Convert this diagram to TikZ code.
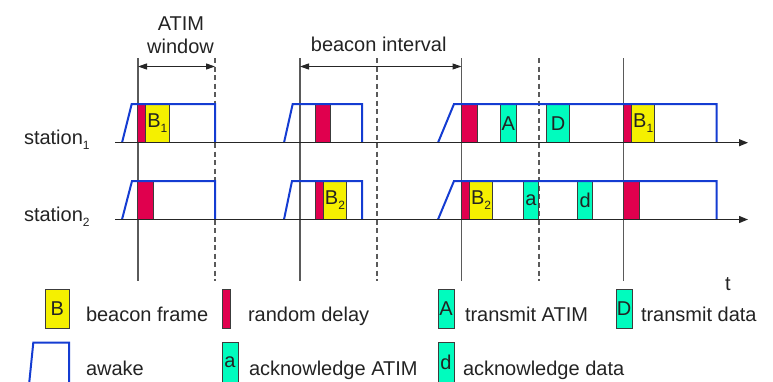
\documentclass[tikz,border=0pt]{standalone}
\usepackage{fontspec}
\setmainfont{Liberation Sans}
\usetikzlibrary{arrows.meta}
\definecolor{rdel}{RGB}{224,0,78}
\definecolor{bfr}{RGB}{245,240,0}
\definecolor{tq}{RGB}{0,252,190}
\definecolor{awk}{RGB}{20,60,210}
\definecolor{vgray}{RGB}{90,90,90}
\definecolor{bline}{RGB}{60,60,60}
\definecolor{txt}{RGB}{35,35,35}
\newcommand\mysub[1]{\raisebox{-5pt}{\fontsize{12}{12}\selectfont #1}}
\begin{document}
\begin{tikzpicture}[x=1pt,y=-1pt,
  every node/.style={inner sep=0pt,outer sep=0pt,text=txt,font=\fontsize{20}{24}\selectfont},
  tb/.style={draw=bline,line width=0.9pt,anchor=south west},
  rbox/.style={tb,fill=rdel},
  ybox/.style={tb,fill=bfr},
  tbox/.style={tb,fill=tq},
  h1/.style={minimum height=38.7pt},
  h2/.style={minimum height=38.5pt},
  hl/.style={minimum height=39.3pt},
  vsolid/.style={draw=vgray,line width=1.2pt},
  vdash/.style={draw=vgray,line width=1.2pt,dash pattern=on 5pt off 3.5pt},
  awake/.style={draw=awk,line width=2pt,line join=miter},
  axis/.style={draw=black!85,line width=1.2pt,-{Triangle[length=9pt,width=7pt]}},
  dim/.style={draw=black!85,line width=1.1pt,{Triangle[length=9pt,width=6pt]}-{Triangle[length=9pt,width=6pt]}},
  lbl/.style={anchor=base west}
]
\useasboundingbox (0,0) rectangle (773,381);

% vertical time marks
\foreach \n/\x in {v1/138,v3/300,v5/461.5,v7/623.5}{
  \coordinate (\n t) at (\x,58); \coordinate (\n b) at (\x,281);
  \draw[vsolid] (\n t) -- (\n b);}
\foreach \n/\x in {v2/215,v4/377,v6/539}{
  \coordinate (\n t) at (\x,58); \coordinate (\n b) at (\x,281);
  \draw[vdash] (\n t) -- (\n b);}

% dimension arrows
\coordinate (d1) at (138,66.5); \coordinate (d2) at (215,66.5);
\coordinate (d3) at (300,66.5); \coordinate (d4) at (461.5,66.5);
\draw[dim] (d1) -- (d2);
\draw[dim] (d3) -- (d4);
\node[anchor=base] (atim) at (181,30) {ATIM};
\node[anchor=base] (win) at (180.5,53.3) {window};
\node[anchor=base] (bint) at (378.7,51.7) {beacon interval};

% station 1 boxes
\node[rbox,h1,minimum width=8.4pt] (s1r1) at (137.3,142.7) {};
\node[ybox,h1,minimum width=23.3pt] (s1b1) at (145.7,142.7) {B\mysub{1}};
\node[rbox,h1,minimum width=15pt] (s1r2) at (315.7,142.7) {};
\node[rbox,h1,minimum width=15.6pt] (s1r3) at (461.7,142.7) {};
\node[tbox,h1,minimum width=15.3pt] (s1A) at (500.7,142.7) {A};
\node[tbox,h1,minimum width=23pt] (s1D) at (546.7,142.7) {D};
\node[rbox,h1,minimum width=8pt] (s1r4) at (623.7,142.7) {};
\node[ybox,h1,minimum width=23pt] (s1b2) at (631.7,142.7) {B\mysub{1}};

% station 2 boxes
\node[rbox,h2,minimum width=16pt] (s2r1) at (137.7,219.5) {};
\node[rbox,h2,minimum width=8pt] (s2r2) at (315.3,219.5) {};
\node[ybox,h2,minimum width=23.4pt] (s2b1) at (323.3,219.5) {B\mysub{2}};
\node[rbox,h2,minimum width=7.6pt] (s2r3) at (461.7,219.5) {};
\node[ybox,h2,minimum width=23.4pt] (s2b2) at (469.3,219.5) {B\mysub{2}};
\node[tbox,h2,minimum width=15.4pt] (s2a) at (523.3,219.5) {a};
\node[tbox,h2,minimum width=15pt] (s2d) at (577.7,219.5) {d};
\node[rbox,h2,minimum width=15.6pt] (s2r4) at (623.7,219.5) {};

% awake periods station 1
\draw[awake] (122,142.7) -- (131.7,104) -- (215,104) -- (215,142.7);
\draw[awake] (284,142.7) -- (292.7,104) -- (362,104) -- (362,142.7);
\draw[awake] (438,142.7) -- (454,104) -- (716.7,104) -- (716.7,142.7);
% awake periods station 2
\draw[awake] (122,219.5) -- (132,181) -- (215,181) -- (215,219.5);
\draw[awake] (284,219.5) -- (292,181) -- (362,181) -- (362,219.5);
\draw[awake] (438,219.5) -- (454,181) -- (716.7,181) -- (716.7,219.5);

% axes
\coordinate (a1s) at (115,142.7); \coordinate (a1e) at (748,142.7);
\coordinate (a2s) at (115,219.5); \coordinate (a2e) at (748,219.5);
\draw[axis] (a1s) -- (a1e);
\draw[axis] (a2s) -- (a2e);
\node[lbl] (st1) at (24,144) {station\mysub{1}};
\node[lbl] (st2) at (24,221) {station\mysub{2}};
\node[anchor=base] (tlab) at (728,290) {t};

% legend
\node[ybox,hl,minimum width=23.3pt] (lB) at (45.7,328.3) {B};
\node[lbl] (lBt) at (86,321.7) {beacon frame};
\node[rbox,hl,minimum width=8.7pt] (lr) at (222,328.3) {};
\node[lbl] (lrt) at (248,321.7) {random delay};
\node[tbox,hl,minimum width=16pt] (lA) at (438,328.3) {A};
\node[lbl] (lAt) at (465,321.7) {transmit ATIM};
\node[tbox,hl,minimum width=16pt] (lD) at (616,328.3) {D};
\node[lbl] (lDt) at (641,321.7) {transmit data};

\draw[awake] (29.3,382) -- (33.3,342.7) -- (69,342.7) -- (69,382);
\node[lbl] (lwt) at (86,375) {awake};
\node[tbox,minimum height=39.3pt,minimum width=16pt] (la) at (222,382) {a};
\node[lbl] (lat) at (249,375.5) {acknowledge ATIM};
\node[tbox,minimum height=39.3pt,minimum width=16pt] (ld) at (438,382) {d};
\node[lbl] (ldt) at (463,375.5) {acknowledge data};
\end{tikzpicture}
\end{document}
